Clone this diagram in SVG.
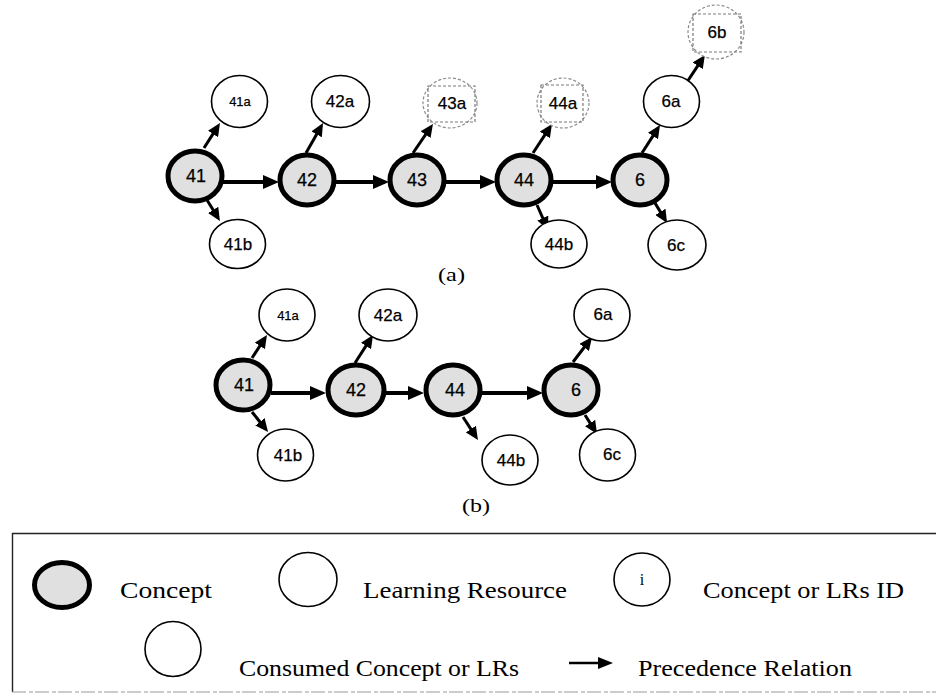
<svg xmlns="http://www.w3.org/2000/svg" width="936" height="694" viewBox="0 0 936 694">
  <style>
    .concept { fill: #e0e0e0; stroke: #000; stroke-width: 5; }
    .lr { fill: #fff; stroke: #000; stroke-width: 1.6; }
    .used { fill: #fff; stroke: #8a8a8a; stroke-width: 1.2; stroke-dasharray: 3 2; }
    .usedbox { fill: none; stroke: #7a7a7a; stroke-width: 1.2; stroke-dasharray: 3 2; }
    .lbl { font-family: "Liberation Sans", Arial, sans-serif; font-size: 17px; fill: #000; stroke: #000; stroke-width: 0.25; text-anchor: middle; }
    .lbl-c { font-size: 18px; }
    .lbl-s { font-size: 13px; }
    .cap { font-family: "Liberation Serif", "Times New Roman", serif; font-size: 19px; fill: #000; }
    .leg { font-family: "Liberation Serif", "Times New Roman", serif; font-size: 23px; fill: #000; }
    .main { fill: none; stroke: #000; stroke-width: 4; marker-end: url(#headMain); }
    .branch { fill: none; stroke: #000; stroke-width: 3; marker-end: url(#headBranch); }
  </style>
  <defs>
    <marker id="headMain" markerUnits="userSpaceOnUse" markerWidth="16" markerHeight="14" refX="3" refY="7" orient="auto">
      <path d="M0,0 L16,7 L0,14 z" fill="#000"/>
    </marker>
    <marker id="headBranch" markerUnits="userSpaceOnUse" markerWidth="13" markerHeight="12" refX="3" refY="6" orient="auto">
      <path d="M0,0 L13,6 L0,12 z" fill="#000"/>
    </marker>
    <marker id="headLegend" markerUnits="userSpaceOnUse" markerWidth="15" markerHeight="12" refX="3" refY="6" orient="auto">
      <path d="M0,0 L15,6 L0,12 z" fill="#000"/>
    </marker>
  </defs>

  <rect width="936" height="694" fill="#fff"/>

  <!-- connectors -->
  <g id="connectors">
    <!-- (a) precedence chain -->
    <path class="main" d="M222,182 H266"/>
    <path class="main" d="M335,182 H376"/>
    <path class="main" d="M445,182 H483"/>
    <path class="main" d="M552,182 H599"/>
    <!-- (a) resource links -->
    <path class="branch" d="M204,148 L214.6,131.4"/>
    <path class="branch" d="M207,200 L214.7,212.5"/>
    <path class="branch" d="M306,153 L318.1,131.7"/>
    <path class="branch" d="M413,153 L427.3,132.2"/>
    <path class="branch" d="M533,153 L546.5,132.4"/>
    <path class="branch" d="M537,205 L544,220.8"/>
    <path class="branch" d="M642,153 L654.6,133.4"/>
    <path class="branch" d="M687,82 L699.4,63.3"/>
    <path class="branch" d="M655,203 L661.9,214.4"/>
    <!-- (b) precedence chain -->
    <path class="main" d="M271,393 H313"/>
    <path class="main" d="M385,393 H411"/>
    <path class="main" d="M481,393 H530"/>
    <!-- (b) resource links -->
    <path class="branch" d="M252,358 L261.5,343.4"/>
    <path class="branch" d="M252,412 L261.8,424.2"/>
    <path class="branch" d="M355,363 L367.6,343.4"/>
    <path class="branch" d="M463,417 L472.5,431.6"/>
    <path class="branch" d="M573,362 L586,345"/>
    <path class="branch" d="M585,415 L591.7,425.6"/>
  </g>

  <!-- (a) nodes -->
  <g id="a-41"><ellipse class="concept" cx="195" cy="176" rx="27" ry="25"/><text class="lbl lbl-c" x="196" y="182">41</text></g>
  <g id="a-42"><ellipse class="concept" cx="307" cy="180" rx="27" ry="25"/><text class="lbl lbl-c" x="307" y="186">42</text></g>
  <g id="a-43"><ellipse class="concept" cx="417" cy="180" rx="27" ry="25"/><text class="lbl lbl-c" x="417" y="186">43</text></g>
  <g id="a-44"><ellipse class="concept" cx="524" cy="180" rx="27" ry="25"/><text class="lbl lbl-c" x="524" y="186">44</text></g>
  <g id="a-6"><ellipse class="concept" cx="640" cy="180" rx="27" ry="25"/><text class="lbl lbl-c" x="640" y="186">6</text></g>

  <g id="a-41a"><ellipse class="lr" cx="239.5" cy="101.5" rx="28" ry="26"/><text class="lbl lbl-s" x="240" y="106">41a</text></g>
  <g id="a-41b"><ellipse class="lr" cx="237.5" cy="244" rx="28" ry="24.5"/><text class="lbl" x="238" y="250">41b</text></g>
  <g id="a-42a"><ellipse class="lr" cx="340.5" cy="101.5" rx="29" ry="26"/><text class="lbl" x="340" y="107">42a</text></g>
  <g id="a-43a"><ellipse class="used" cx="450" cy="103" rx="27" ry="25"/><rect class="usedbox" x="428" y="86" width="47" height="36"/><text class="lbl" x="452" y="109">43a</text></g>
  <g id="a-44a"><ellipse class="used" cx="563" cy="103" rx="26" ry="25"/><rect class="usedbox" x="541" y="85" width="42" height="37"/><text class="lbl" x="563" y="109">44a</text></g>
  <g id="a-44b"><ellipse class="lr" cx="559" cy="244" rx="28" ry="24"/><text class="lbl" x="559" y="250">44b</text></g>
  <g id="a-6a"><ellipse class="lr" cx="671.5" cy="101.5" rx="28" ry="26"/><text class="lbl" x="671" y="107">6a</text></g>
  <g id="a-6b"><ellipse class="used" cx="716" cy="32" rx="28" ry="27"/><rect class="usedbox" x="693" y="14" width="48" height="38"/><text class="lbl" x="717" y="38">6b</text></g>
  <g id="a-6c"><ellipse class="lr" cx="677" cy="245" rx="29" ry="25"/><text class="lbl" x="676" y="251">6c</text></g>

  <text id="cap-a" class="cap" x="438" y="281" textLength="27" lengthAdjust="spacingAndGlyphs">(a)</text>

  <!-- (b) nodes -->
  <g id="b-41"><ellipse class="concept" cx="243" cy="385" rx="27" ry="25"/><text class="lbl lbl-c" x="244" y="391">41</text></g>
  <g id="b-42"><ellipse class="concept" cx="356" cy="390" rx="28" ry="25"/><text class="lbl lbl-c" x="356" y="396">42</text></g>
  <g id="b-44"><ellipse class="concept" cx="453" cy="390" rx="27" ry="25"/><text class="lbl lbl-c" x="455" y="396">44</text></g>
  <g id="b-6"><ellipse class="concept" cx="571" cy="390" rx="27" ry="25"/><text class="lbl lbl-c" x="576" y="396">6</text></g>

  <g id="b-41a"><ellipse class="lr" cx="287" cy="315" rx="28" ry="26"/><text class="lbl lbl-s" x="288" y="320">41a</text></g>
  <g id="b-41b"><ellipse class="lr" cx="285.5" cy="455" rx="28" ry="26"/><text class="lbl" x="288" y="461">41b</text></g>
  <g id="b-42a"><ellipse class="lr" cx="388" cy="315" rx="29" ry="26"/><text class="lbl" x="388" y="321">42a</text></g>
  <g id="b-44b"><ellipse class="lr" cx="510" cy="460" rx="28" ry="25"/><text class="lbl" x="511" y="466">44b</text></g>
  <g id="b-6a"><ellipse class="lr" cx="602" cy="315" rx="28" ry="26"/><text class="lbl" x="603" y="320">6a</text></g>
  <g id="b-6c"><ellipse class="lr" cx="607.5" cy="455" rx="28" ry="26"/><text class="lbl" x="612" y="460">6c</text></g>

  <text id="cap-b" class="cap" x="462" y="512" textLength="28" lengthAdjust="spacingAndGlyphs">(b)</text>

  <!-- legend -->
  <g id="legend">
    <path d="M12,533.5 H936" stroke="#222" stroke-width="1.6" fill="none"/>
    <path d="M12.5,533 V692" stroke="#222" stroke-width="1.4" fill="none"/>
    <path d="M12,692 H936" stroke="#9a9a9a" stroke-width="1.2" stroke-dasharray="14 3 4 2" fill="none"/>

    <g id="legend-concept">
      <ellipse class="concept" cx="62" cy="585" rx="27.5" ry="22.5"/>
      <text class="leg" x="120" y="598" textLength="92" lengthAdjust="spacingAndGlyphs">Concept</text>
    </g>
    <g id="legend-lr">
      <ellipse class="lr" cx="308" cy="579.5" rx="29" ry="27"/>
      <text class="leg" x="363" y="598" textLength="204" lengthAdjust="spacingAndGlyphs">Learning Resource</text>
    </g>
    <g id="legend-id">
      <ellipse class="lr" cx="642" cy="579.5" rx="28" ry="26.5"/>
      <text x="642" y="585" font-family="'Liberation Serif', serif" font-size="16" text-anchor="middle">i</text>
      <text class="leg" x="703" y="598" textLength="201" lengthAdjust="spacingAndGlyphs">Concept or LRs ID</text>
    </g>
    <g id="legend-consumed">
      <ellipse class="lr" cx="173" cy="649" rx="28" ry="27.5"/>
      <text class="leg" x="239" y="676" textLength="280" lengthAdjust="spacingAndGlyphs">Consumed Concept or LRs</text>
    </g>
    <g id="legend-precedence">
      <path d="M569,663 H601" stroke="#000" stroke-width="2.5" fill="none" marker-end="url(#headLegend)"/>
      <text class="leg" x="638" y="676" textLength="214" lengthAdjust="spacingAndGlyphs">Precedence Relation</text>
    </g>
  </g>
</svg>
